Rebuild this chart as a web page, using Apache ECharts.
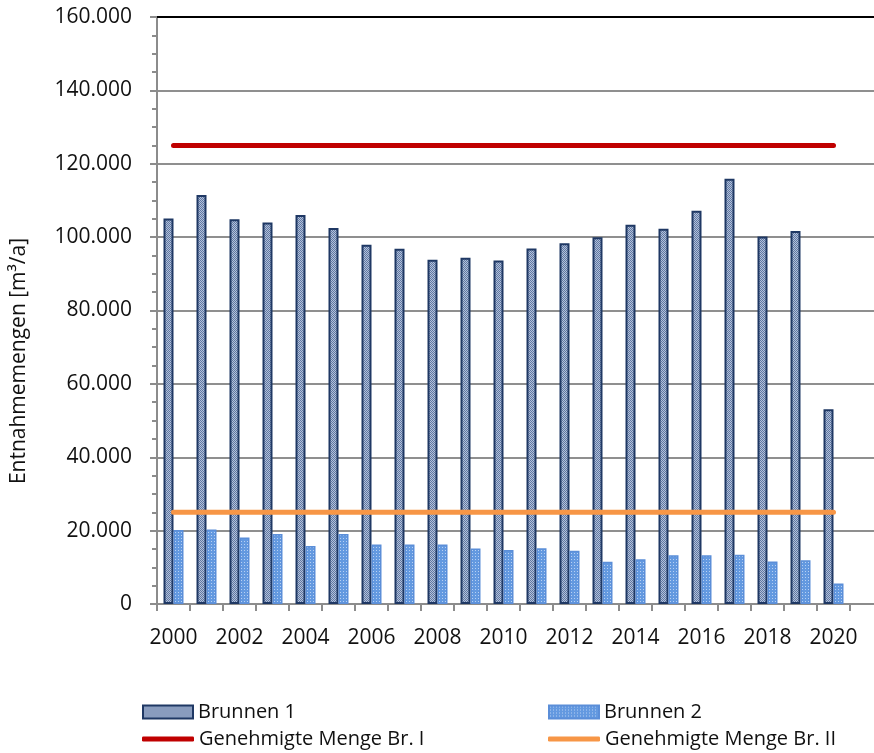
<!DOCTYPE html>
<html>
<head>
<meta charset="utf-8">
<script src="https://cdn.jsdelivr.net/npm/echarts@6/dist/echarts.min.js"></script>
<style>
  html, body { margin: 0; padding: 0; background: #fff; overflow: hidden; }
  /* etwas breiter als das Fenster: die Achse läuft rechts aus dem Bild */
  #chart { width: 883px; height: 753px; }
</style>
</head>
<body>
<div id="chart"></div>
<script>
// Jahre
var years = ['2000', '2001', '2002', '2003', '2004', '2005', '2006', '2007', '2008', '2009', '2010',
             '2011', '2012', '2013', '2014', '2015', '2016', '2017', '2018', '2019', '2020'];

// Entnahmemengen [m³/a]
var brunnen1 = [105100, 111500, 104900, 104000, 106000, 102500, 97900, 96800, 93800, 94400, 93600,
                96900, 98300, 100000, 103400, 102300, 107200, 115900, 100200, 101700, 53100];
var brunnen2 = [20200, 20300, 18100, 19100, 15800, 19100, 16200, 16200, 16200, 15100, 14700,
                15200, 14500, 11500, 12200, 13300, 13300, 13400, 11600, 11900, 5600];

// genehmigte Mengen
var genehmigtBr1 = [125000, 125000, 125000, 125000, 125000, 125000, 125000, 125000, 125000, 125000, 125000,
                    125000, 125000, 125000, 125000, 125000, 125000, 125000, 125000, 125000, 125000];
var genehmigtBr2 = [25000, 25000, 25000, 25000, 25000, 25000, 25000, 25000, 25000, 25000, 25000,
                    25000, 25000, 25000, 25000, 25000, 25000, 25000, 25000, 25000, 25000];

var FONT = '"Open Sans", "Noto Sans", sans-serif';

// kleine Füllmuster wie in Excel
function makePattern(base, dot, size, cells) {
    var c = document.createElement('canvas');
    c.width = size;
    c.height = size;
    var ctx = c.getContext('2d');
    ctx.fillStyle = base;
    ctx.fillRect(0, 0, size, size);
    ctx.fillStyle = dot;
    cells.forEach(function (p) { ctx.fillRect(p[0], p[1], 1, 1); });
    return c;
}
var pat1 = makePattern('#b3c1d9', '#5f77a3', 4, [[0, 0], [2, 0], [1, 1], [3, 1], [0, 2], [2, 2], [1, 3], [3, 3]]);
var pat2 = makePattern('#6399e0', '#b7d0f3', 3, [[1, 1]]);

// letzte leere Kategorie, damit die Achse über 2020 hinausläuft
var categories = years.concat(['']);

function legendAt(left, top, name, extra) {
    var l = {
        left: left, top: top, orient: 'vertical',
        itemWidth: 50, itemHeight: 13, icon: 'rect',
        textStyle: { fontSize: 20, color: '#111', fontFamily: FONT },
        data: [name]
    };
    return Object.assign(l, extra || {});
}

var chart = echarts.init(document.getElementById('chart'), null, { renderer: 'canvas' });
chart.setOption({
    animation: false,
    textStyle: { fontFamily: FONT },
    grid: { left: 157, top: 17, bottom: 149, right: 0 },
    legend: [
        legendAt(137, 697, 'Brunnen 1'),
        legendAt(137, 724, 'Genehmigte Menge Br. I', { icon: 'roundRect', itemWidth: 52, itemHeight: 5 }),
        legendAt(543, 697, 'Brunnen 2'),
        legendAt(543, 724, 'Genehmigte Menge Br. II', { icon: 'roundRect', itemWidth: 52, itemHeight: 5 })
    ],
    graphic: [{
        type: 'text',
        x: 19, y: 361, rotation: Math.PI / 2,
        style: {
            text: 'Entnahmemengen [m³/a]',
            fontSize: 21, fontFamily: FONT, fill: '#111',
            align: 'center', verticalAlign: 'middle'
        }
    }],
    xAxis: [
        {
            type: 'category',
            data: categories,
            axisLine: { lineStyle: { color: '#8c8c8c', width: 2 } },
            axisTick: { show: true, interval: 0, length: 7, lineStyle: { color: '#8c8c8c', width: 2 } },
            axisLabel: { interval: 1, margin: 24, fontSize: 21, color: '#111', fontFamily: FONT },
            splitLine: { show: false }
        },
        {
            type: 'category',
            position: 'top',
            data: categories,
            axisLine: { lineStyle: { color: '#000', width: 2 } },
            axisTick: { show: false },
            axisLabel: { show: false }
        }
    ],
    yAxis: {
        type: 'value',
        min: 0, max: 160000, interval: 20000,
        axisLine: { show: true, lineStyle: { color: '#8c8c8c', width: 2 } },
        axisTick: { show: true, length: 7, lineStyle: { color: '#8c8c8c', width: 2 } },
        minorTick: { show: true, splitNumber: 4, length: 5, lineStyle: { color: '#8c8c8c', width: 2 } },
        splitLine: { lineStyle: { color: '#8f8f8f', width: 2 } },
        axisLabel: {
            margin: 25, fontSize: 21, color: '#111', fontFamily: FONT,
            formatter: function (v) { return v === 0 ? '0' : (v / 1000) + '.000'; }
        }
    },
    series: [
        {
            name: 'Brunnen 1',
            type: 'bar',
            data: brunnen1,
            barWidth: 10,
            barGap: '0%',
            itemStyle: { color: { image: pat1, repeat: 'repeat' }, borderColor: '#1f3864', borderWidth: 2 }
        },
        {
            name: 'Brunnen 2',
            type: 'bar',
            data: brunnen2,
            barWidth: 10,
            barGap: '0%',
            itemStyle: { color: { image: pat2, repeat: 'repeat' }, borderColor: '#5b8ed8', borderWidth: 1.5 }
        },
        {
            name: 'Genehmigte Menge Br. I',
            type: 'line',
            data: genehmigtBr1,
            symbol: 'none',
            color: '#c00000',
            lineStyle: { color: '#c00000', width: 5, cap: 'round' }
        },
        {
            name: 'Genehmigte Menge Br. II',
            type: 'line',
            data: genehmigtBr2,
            symbol: 'none',
            color: '#f79646',
            lineStyle: { color: '#f79646', width: 5, cap: 'round' }
        }
    ]
});
</script>
</body>
</html>
